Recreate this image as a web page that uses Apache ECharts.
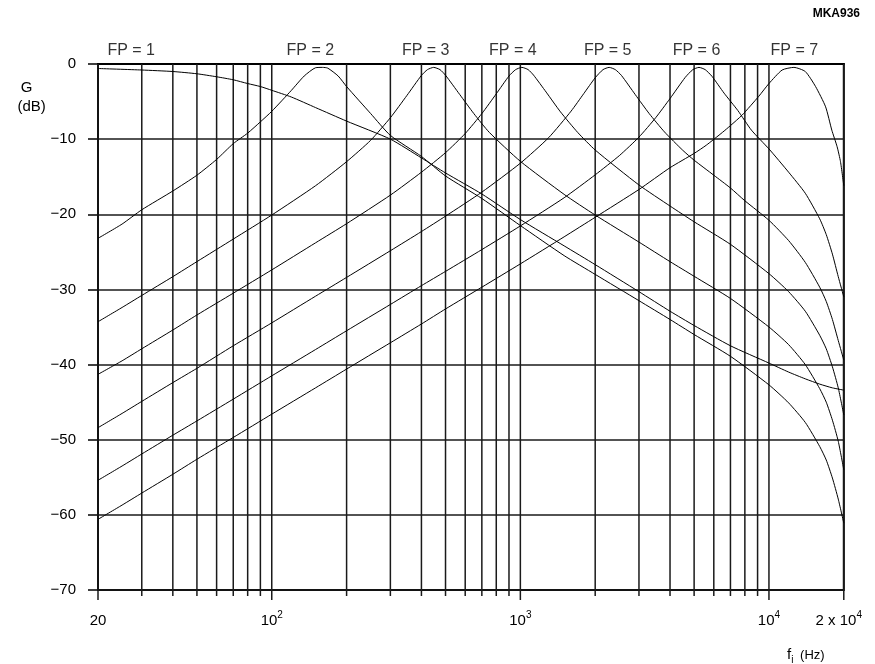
<!DOCTYPE html>
<html><head><meta charset="utf-8">
<script src="https://cdn.jsdelivr.net/npm/echarts@6/dist/echarts.min.js"></script>
<style>html,body{margin:0;padding:0;background:#fff}#c{width:875px;height:664px}</style>
</head><body><div id="c"></div>
<script>
// ---- data (frequency Hz, gain dB) ----
const fp1 = [[20,-0.6],[30,-0.8],[40,-1.0],[50,-1.3],[60,-1.7],[70,-2.1],[80,-2.6],[90,-3.0],[100,-3.5],[120,-4.4],[150,-5.8],[200,-7.6],[300,-10.0],[400,-12.5],[500,-14.5],[700,-17.3],[1000,-20.7],[1500,-24.2],[2000,-26.7],[3000,-30.3],[4000,-32.9],[5000,-34.8],[7000,-37.5],[10000,-39.8],[12000,-41.0],[14000,-41.9],[16000,-42.6],[18000,-43.1],[20000,-43.4]];
const fp2 = [[20,-23.2],[25,-21.3],[30,-19.4],[40,-16.9],[50,-14.8],[60,-12.7],[70,-10.6],[80,-9.2],[90,-7.7],[100,-6.3],[120,-3.5],[135,-1.6],[150,-0.5],[160,-0.45],[168,-0.55],[185,-1.6],[200,-3.0],[250,-6.6],[300,-9.5],[400,-12.3],[500,-14.9],[700,-17.9],[1000,-21.5],[1500,-25.5],[2000,-28.0],[3000,-31.5],[4000,-34.0],[5000,-36.0],[7000,-38.9],[10000,-42.7],[12000,-45.1],[14000,-47.7],[16000,-50.9],[17000,-52.7],[18000,-55.1],[19000,-57.9],[20000,-61.1]];
const fp3 = [[20,-34.3],[25,-32.4],[30,-30.8],[40,-28.3],[50,-26.3],[70,-23.3],[100,-20.1],[150,-16.2],[200,-13.0],[250,-10.15],[300,-7.15],[350,-4.17],[400,-1.52],[423,-0.75],[448,-0.45],[475,-0.75],[500,-1.5],[570,-4.05],[650,-6.6],[750,-9.1],[1000,-12.95],[1500,-17.35],[2000,-20.1],[3000,-23.7],[4000,-26.3],[5000,-28.25],[7000,-31.2],[10000,-35.0],[12000,-37.35],[14000,-40.0],[16000,-43.2],[17000,-45.0],[18000,-47.4],[19000,-50.2],[20000,-54.0]];
const fp4 = [[20,-41.3],[25,-39.5],[30,-37.9],[40,-35.4],[50,-33.4],[70,-30.5],[100,-27.4],[150,-23.8],[200,-21.25],[300,-17.45],[400,-14.4],[500,-11.8],[600,-9.25],[700,-6.6],[800,-3.97],[900,-1.6],[957,-0.75],[1014,-0.45],[1075,-0.75],[1130,-1.48],[1270,-3.74],[1450,-6.37],[1700,-9.1],[2000,-11.45],[3000,-16.1],[4000,-18.9],[5000,-21.0],[7000,-24.0],[10000,-27.9],[12000,-30.3],[14000,-32.9],[16000,-36.1],[17000,-37.9],[18000,-40.3],[19000,-43.1],[20000,-46.7]];
const fp5 = [[20,-48.4],[25,-46.5],[30,-44.9],[40,-42.4],[50,-40.5],[70,-37.5],[100,-34.45],[150,-30.9],[200,-28.4],[300,-24.85],[400,-22.3],[500,-20.25],[700,-17.05],[1000,-13.2],[1300,-9.8],[1600,-6.27],[1800,-3.93],[2000,-1.83],[2150,-0.75],[2276,-0.45],[2410,-0.75],[2550,-1.52],[2900,-4.08],[3300,-6.61],[3800,-9.04],[4500,-11.48],[5000,-12.8],[6000,-14.8],[7000,-16.5],[8000,-18.2],[10000,-20.8],[12000,-23.5],[14000,-26.4],[16000,-29.7],[17000,-31.6],[18000,-34.0],[19000,-36.8],[20000,-39.4]];
const fp6 = [[20,-55.4],[25,-53.5],[30,-51.9],[40,-49.4],[50,-47.5],[70,-44.6],[100,-41.5],[150,-38.0],[200,-35.5],[300,-32.0],[400,-29.5],[500,-27.6],[700,-24.7],[1000,-21.55],[1500,-17.8],[2000,-14.75],[2500,-12.2],[3000,-9.73],[3500,-7.16],[4000,-4.6],[4600,-1.8],[4940,-0.75],[5232,-0.45],[5540,-0.75],[5900,-1.64],[6600,-3.88],[7500,-6.2],[8500,-8.8],[10000,-11.3],[12000,-14.4],[14000,-17.2],[16000,-20.6],[17000,-22.7],[18000,-25.3],[19000,-28.3],[20000,-31.0]];
const fp7 = [[20,-60.6],[25,-58.7],[30,-57.1],[40,-54.6],[50,-52.6],[70,-49.7],[100,-46.6],[150,-43.1],[200,-40.6],[300,-37.1],[400,-34.6],[500,-32.6],[700,-29.7],[1000,-26.6],[1500,-23.0],[2000,-20.4],[3000,-16.7],[4000,-13.8],[5000,-11.9],[5600,-10.8],[6500,-9.1],[7000,-8.2],[7800,-6.8],[9100,-4.3],[10000,-2.6],[11300,-0.8],[12600,-0.45],[14000,-1.0],[15400,-3.0],[16900,-5.7],[17900,-8.8],[18800,-11.0],[19400,-13.0],[20000,-16.2]];

const fpLabels = ['FP = 1','FP = 2','FP = 3','FP = 4','FP = 5','FP = 6','FP = 7'];
const fpLabelFreqs = [27.2,143,416,933,2245,5112,12650];

const minorGridFreqs = [30,40,50,60,70,80,90,200,300,400,500,600,700,800,900,2000,3000,4000,5000,6000,7000,8000,9000];
const majorGridFreqs = [20,100,1000,10000,20000];
const xTickLabels = {20:'20',100:'10{sup|2}',1000:'10{sup|3}',10000:'10{sup|4}',20000:'2 x 10{supr|4}'};
const yMin = -70, yMax = 0, yStep = 10;

// ---- chart ----
const FONT = '"Liberation Sans", Arial, sans-serif';
const curves = [fp1, fp2, fp3, fp4, fp5, fp6, fp7];
const chart = echarts.init(document.getElementById('c'), null, {renderer: 'canvas'});

function gridSeries(freqs, ext) {
  return {
    type: 'custom', clip: false, silent: true, z: 1,
    data: freqs.map(f => [f, yMax]),
    renderItem: (p, api) => {
      const f = api.value(0);
      const a = api.coord([f, yMax]);
      const b = api.coord([f, yMin]);
      return {type: 'line', shape: {x1: a[0], y1: a[1], x2: b[0], y2: b[1] + ext},
        style: {stroke: '#1a1a1a', lineWidth: 1.5}};
    }
  };
}

chart.setOption({
  animation: false,
  backgroundColor: '#fff',
  grid: {left: 98, right: 30, top: 64, bottom: 74, show: true, borderColor: '#000', borderWidth: 2, backgroundColor: 'transparent'},
  xAxis: {
    type: 'log', logBase: 10, min: 20, max: 20000,
    axisLine: {show: true, lineStyle: {color: '#000', width: 2}},
    axisTick: {show: false}, splitLine: {show: false}, minorTick: {show: false},
    axisLabel: {
      show: true, showMinLabel: true, showMaxLabel: true, margin: 20,
      color: '#000', fontFamily: FONT, fontSize: 15, lineHeight: 22,
      formatter: v => xTickLabels[Math.round(v)] || '',
      rich: {
        sup: {fontSize: 10, lineHeight: 10, verticalAlign: 'top', fontFamily: FONT, color: '#000'},
        supr: {fontSize: 10, lineHeight: 10, verticalAlign: 'top', fontFamily: FONT, color: '#000', padding: [0, 10, 0, 0]}
      }
    }
  },
  yAxis: {
    type: 'value', min: yMin, max: yMax, interval: yStep,
    axisLine: {show: true, onZero: false, lineStyle: {color: '#000', width: 2}},
    axisTick: {show: true, length: 10, lineStyle: {color: '#000', width: 1.5}},
    splitLine: {show: true, lineStyle: {color: '#1a1a1a', width: 1.5}},
    axisLabel: {margin: 22, color: '#000', fontFamily: FONT, fontSize: 15,
      formatter: v => v === 0 ? '0' : '\u2212' + (-v)}
  },
  series: [
    ...curves.map((d, i) => ({
      type: 'line', name: fpLabels[i], data: d, showSymbol: false, symbol: 'none',
      smooth: 0.2, silent: true, z: 3, lineStyle: {color: '#000', width: 1}
    })),
    gridSeries(minorGridFreqs, 6),
    gridSeries(majorGridFreqs, 10),
    {
      type: 'scatter', silent: true, symbolSize: 0, z: 4,
      data: fpLabelFreqs.map((f, i) => ({value: [f, yMax], name: fpLabels[i]})),
      label: {show: true, position: 'top', distance: 5, formatter: p => p.name,
        color: '#000', fontFamily: FONT, fontSize: 16}
    }
  ],
  graphic: [
    {type: 'text', x: 26.5, y: 87.5, style: {text: 'G', font: '15px ' + FONT, fill: '#000', align: 'center', verticalAlign: 'middle'}},
    {type: 'text', x: 31.7, y: 106.7, style: {text: '(dB)', font: '15px ' + FONT, fill: '#000', align: 'center', verticalAlign: 'middle'}},
    {type: 'text', x: 860, y: 14, style: {text: 'MKA936', font: 'bold 12px ' + FONT, fill: '#000', align: 'right', verticalAlign: 'middle'}},
    {type: 'text', x: 787, y: 655, style: {
      text: '{f|f}{i|i}  {h|(Hz)}', fill: '#000', align: 'left', verticalAlign: 'middle',
      rich: {
        f: {fontSize: 15, fontFamily: FONT, lineHeight: 20, fill: '#000'},
        i: {fontSize: 10, fontFamily: FONT, lineHeight: 10, verticalAlign: 'bottom', fill: '#000'},
        h: {fontSize: 13, fontFamily: FONT, lineHeight: 20, fill: '#000'}
      }}}
  ]
});
</script>
</body></html>
